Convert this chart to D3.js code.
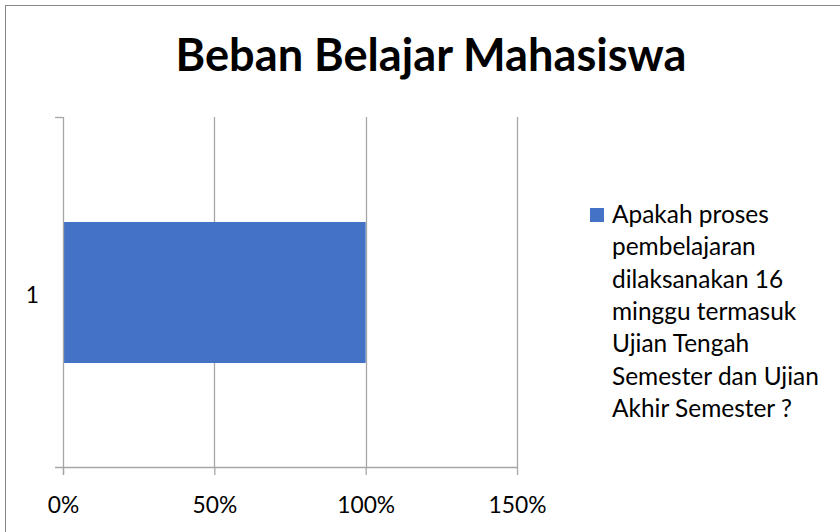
<!DOCTYPE html>
<html><head><meta charset="utf-8">
<script src="https://cdn.jsdelivr.net/npm/d3@7"></script>
<style>body{margin:0;background:#fff}svg{display:block}</style>
</head><body>
<svg id="c" width="840" height="532"></svg>
<script>
const title = "Beban Belajar Mahasiswa";
const categories = ["1"];
const seriesName = "Apakah proses pembelajaran dilaksanakan 16 minggu termasuk Ujian Tengah Semester dan Ujian Akhir Semester ?";
const legendLines = ["Apakah proses","pembelajaran","dilaksanakan 16","minggu termasuk","Ujian Tengah","Semester dan Ujian","Akhir Semester ?"];
const values = [1.0];
const xTicks = [0, 0.5, 1.0, 1.5];
const xTickLabels = ["0%","50%","100%","150%"];

(function(){
const svg = d3.select("#c");
const font = "Lato, 'Open Sans', sans-serif";
function fitSize(str, weight, target){
  const tmp = svg.append("text").attr("font-family",font).attr("font-weight",weight).attr("font-size",20).text(str);
  const w = tmp.node().getComputedTextLength(); tmp.remove();
  return 20*target/w;
}
const tickFS = fitSize("100%","normal",58);
const legFS = fitSize("Semester dan Ujian","normal",207);
const titleFS = fitSize(title,"bold",511);

svg.append("rect").attr("x",5.5).attr("y",5.5).attr("width",900).attr("height",600)
  .attr("fill","#fff").attr("stroke","#868686").attr("stroke-width",1);

const pL = 63, pR = 517, pT = 117, pB = 467;
const barH = 141;
const gridC = "#a6a6a6";
const x = d3.scaleLinear().domain([0,1.5]).range([pL,pR]);
const y = d3.scaleBand().domain(categories).range([pB, pT]);

// grid
svg.append("g").selectAll("line").data(xTicks.slice(1)).join("line")
  .attr("x1",d=>Math.round(x(d))+0.5).attr("x2",d=>Math.round(x(d))+0.5)
  .attr("y1",pT).attr("y2",pB).attr("stroke",gridC).attr("stroke-width",1.3);

// bars
svg.append("g").selectAll("rect").data(values).join("rect")
  .attr("x",x(0)).attr("y",(d,i)=>y(categories[i]) + (y.bandwidth()-barH)/2 + 0.5)
  .attr("width",d=>x(d)-x(0)).attr("height",barH)
  .attr("fill","#4472c4");

// axes
const xAxis = svg.append("g").attr("transform",`translate(0,${pB})`)
  .call(d3.axisBottom(x).tickValues(xTicks).tickFormat((d,i)=>xTickLabels[i]).tickSize(8).tickSizeOuter(0).tickPadding(22));
xAxis.select(".domain").remove();
xAxis.selectAll(".tick line").attr("stroke",gridC).attr("stroke-width",1.3);
xAxis.selectAll("text").attr("font-family",font).attr("font-size",tickFS).attr("fill","#000");
svg.append("line").attr("x1",55).attr("x2",pR).attr("y1",pB+0.5).attr("y2",pB+0.5)
  .attr("stroke",gridC).attr("stroke-width",1.3);

const yAxis = svg.append("g").attr("transform",`translate(${pL},0)`)
  .call(d3.axisLeft(y).tickSize(0).tickPadding(24));
yAxis.select(".domain").remove();
yAxis.selectAll("text").attr("font-family",font).attr("font-size",tickFS).attr("fill","#000").attr("dy","0.5em");
svg.append("line").attr("x1",pL+0.5).attr("x2",pL+0.5).attr("y1",pT).attr("y2",pB+8)
  .attr("stroke",gridC).attr("stroke-width",1.3);
svg.append("line").attr("x1",55).attr("x2",pL).attr("y1",pT+0.5).attr("y2",pT+0.5)
  .attr("stroke",gridC).attr("stroke-width",1.3);

// title
svg.append("text").attr("x",431).attr("y",71).attr("text-anchor","middle")
  .attr("font-family",font).attr("font-weight","bold").attr("font-size",titleFS).attr("fill","#000").text(title);

// legend
const lg = svg.append("g");
lg.append("rect").attr("x",590).attr("y",208).attr("width",14).attr("height",14).attr("fill","#4472c4");
const lt = lg.append("text").attr("font-family",font).attr("font-size",legFS).attr("fill","#000");
lt.selectAll("tspan").data(legendLines).join("tspan").attr("x",612).attr("y",(d,i)=>223+i*32.3).text(d=>d);
})();
</script>
</body></html>
